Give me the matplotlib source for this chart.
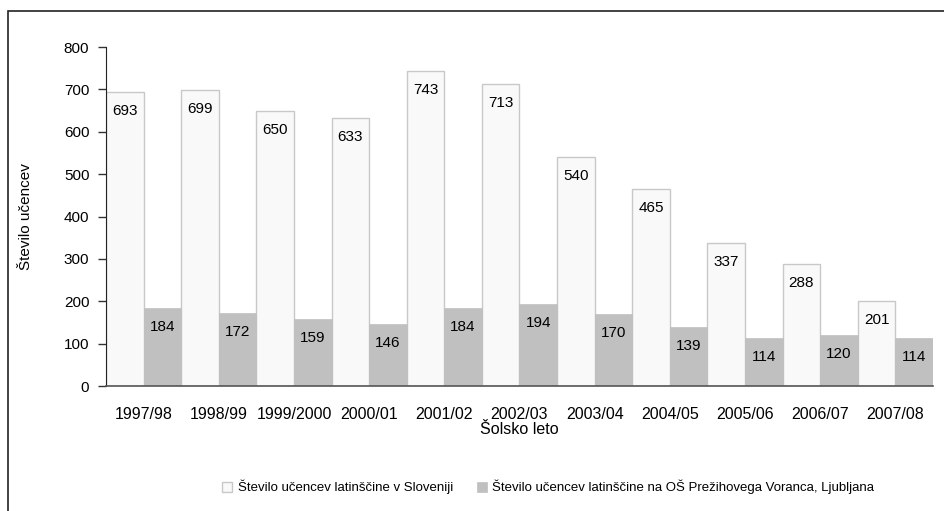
import numpy as np
import matplotlib.pyplot as plt
from matplotlib.patches import Rectangle

plt.rcParams['font.family'] = ['Liberation Sans', 'DejaVu Sans']

# Data
years = ['1997/98', '1998/99', '1999/2000', '2000/01', '2001/02', '2002/03',
         '2003/04', '2004/05', '2005/06', '2006/07', '2007/08']
slovenia = [693, 699, 650, 633, 743, 713, 540, 465, 337, 288, 201]
school = [184, 172, 159, 146, 184, 194, 170, 139, 114, 120, 114]

label_slo = 'Število učencev latinščine v Sloveniji'
label_school = 'Število učencev latinščine na OŠ Prežihovega Voranca, Ljubljana'

fig = plt.figure(figsize=(9.45, 5.11), dpi=100)
ax = fig.add_axes([0.1122, 0.2446, 0.875, 0.6634])

# frame around the chart area
fig.patches.append(Rectangle((8 / 945, -0.05), 1.0, 1 - 11 / 511 + 0.05,
                             transform=fig.transFigure, fill=False,
                             edgecolor='#222222', lw=1.2))

x = np.arange(len(years))
w = 0.5
b1 = ax.bar(x - w / 2, slovenia, w, color='#f9f9f9', edgecolor='#c8c8c8',
            lw=1.0, label=label_slo)
b2 = ax.bar(x + w / 2, school, w, color='#c0c0c0', edgecolor='#c0c0c0',
            lw=0.5, label=label_school)

# value labels just below the top of each bar
for rect, v in zip(list(b1) + list(b2), slovenia + school):
    ax.annotate(str(v), (rect.get_x() + rect.get_width() / 2, v),
                xytext=(0, -19), textcoords='offset pixels',
                ha='center', va='center', fontsize=11)

ax.set_xlim(-0.5, len(years) - 0.5)
ax.set_ylim(0, 800)
ax.set_yticks(range(0, 801, 100))
ax.set_xticks(x)
ax.set_xticklabels(years, fontsize=11.5)
ax.tick_params(axis='x', length=0, pad=15)
ax.tick_params(axis='y', direction='out', length=6, width=1, labelsize=11,
               pad=6, color='#333333')

for s in ['top', 'right']:
    ax.spines[s].set_visible(False)
ax.spines['left'].set_color('#222222')
ax.spines['bottom'].set_color('#555555')
ax.spines['bottom'].set_linewidth(1.2)

ax.set_xlabel('Šolsko leto', fontsize=11.5, labelpad=0)
ax.set_ylabel('Število učencev', fontsize=11, labelpad=22)

fig.legend(handles=[b1, b2], loc='center', bbox_to_anchor=(0.58, 1 - 487 / 511),
           ncol=2, frameon=False, fontsize=9.5, handlelength=0.8,
           handleheight=0.8, handletextpad=0.4, columnspacing=1.8)

fig.savefig('out.png', dpi=100)
